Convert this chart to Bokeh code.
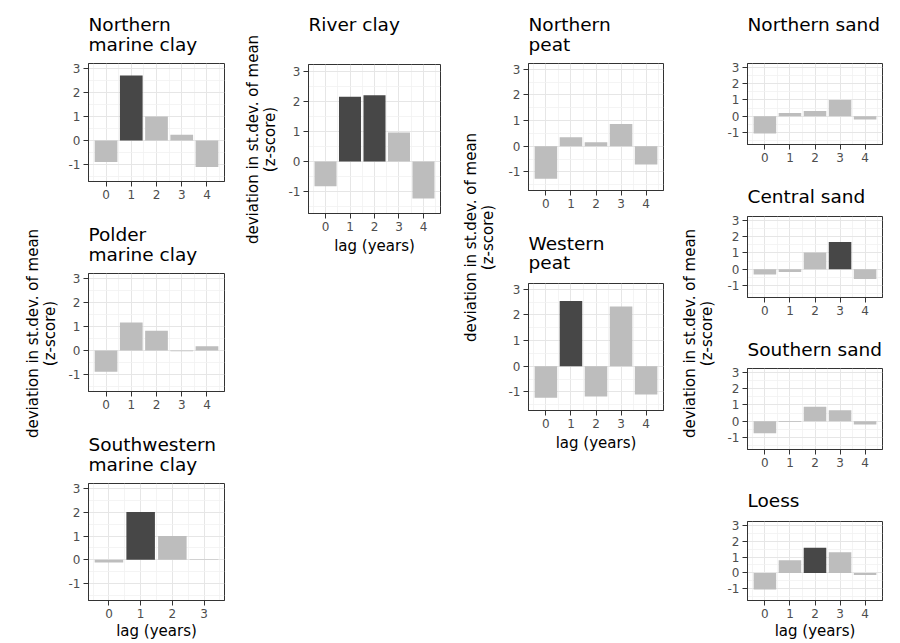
import math
from bokeh.plotting import figure
from bokeh.layouts import row, column
from bokeh.models import Range1d, FixedTicker, ColumnDataSource
from bokeh.embed import file_html
from bokeh.resources import INLINE
from bokeh.core.properties import value

# ---------------- data ----------------
lags5 = [0, 1, 2, 3, 4]
lags4 = [0, 1, 2, 3]
y_ticks = [-1, 0, 1, 2, 3]
y_limits = [-1.5, 3.0]

northern_marine_clay = [-0.91, 2.72, 1.00, 0.24, -1.12]
northern_marine_clay_sig = [0, 1, 0, 0, 0]
polder_marine_clay = [-0.90, 1.17, 0.82, -0.04, 0.17]
polder_marine_clay_sig = [0, 0, 0, 0, 0]
southwestern_marine_clay = [-0.12, 2.02, 1.00, 0.02]
southwestern_marine_clay_sig = [0, 1, 0, 0]
river_clay = [-0.82, 2.15, 2.20, 0.97, -1.23]
river_clay_sig = [0, 1, 1, 0, 0]
northern_peat = [-1.27, 0.35, 0.16, 0.87, -0.71]
northern_peat_sig = [0, 0, 0, 0, 0]
western_peat = [-1.23, 2.54, -1.18, 2.33, -1.10]
western_peat_sig = [0, 1, 0, 0, 0]
northern_sand = [-1.05, 0.20, 0.32, 1.00, -0.20]
northern_sand_sig = [0, 0, 0, 0, 0]
central_sand = [-0.32, -0.16, 1.03, 1.66, -0.59]
central_sand_sig = [0, 0, 0, 1, 0]
southern_sand = [-0.73, -0.05, 0.89, 0.67, -0.20]
southern_sand_sig = [0, 0, 0, 0, 0]
loess = [-1.03, 0.79, 1.58, 1.30, -0.12]
loess_sig = [0, 0, 1, 0, 0]

ylab1 = "deviation in st.dev. of mean"
ylab2 = "(z-score)"
xlab = "lag (years)"

# ---------------- style ----------------
FONT = "DejaVu Sans"
DARK = "#474747"
LIGHT = "#bdbdbd"
BORDER = "#333333"
TICKTXT = "#4d4d4d"
TOTAL_H = 642
BASE_FIX = 6      # text baseline correction (px)
TS = "18.5px"
R = math.pi / 2


def panel(lags, vals, sig, width, height, bl, br, bt, bb, xlabel=False, standoff=3):
    n = len(lags)
    span = (n - 1) + 0.9
    xr = Range1d(-0.45 - 0.05 * span, n - 1 + 0.45 + 0.05 * span)
    yspan = y_limits[1] - y_limits[0]
    yr = Range1d(y_limits[0] - 0.05 * yspan, y_limits[1] + 0.05 * yspan)
    p = figure(width=width, height=height, x_range=xr, y_range=yr,
               output_backend="svg", toolbar_location=None, title=None)
    p.min_border_left = bl
    p.min_border_right = br
    p.min_border_top = bt
    p.min_border_bottom = bb
    p.background_fill_color = "white"
    p.border_fill_color = "white"
    p.outline_line_color = BORDER
    p.outline_line_width = 1

    p.xaxis.ticker = FixedTicker(ticks=list(lags),
                                 minor_ticks=[l - 0.5 for l in lags] + [lags[-1] + 0.5])
    p.yaxis.ticker = FixedTicker(ticks=y_ticks,
                                 minor_ticks=[t - 0.5 for t in y_ticks])
    p.yaxis.major_label_overrides = {-1: "-1"}
    for ax in (p.xaxis[0], p.yaxis[0]):
        ax.axis_line_color = BORDER
        ax.major_tick_line_color = BORDER
        ax.major_tick_out = 5
        ax.major_tick_in = 0
        ax.minor_tick_line_color = None
        ax.major_label_text_font = FONT
        ax.major_label_text_font_size = "12px"
        ax.major_label_text_color = TICKTXT
        ax.major_label_standoff = 3
    for g in (p.xgrid[0], p.ygrid[0]):
        g.grid_line_color = "#e6e6e6"
        g.grid_line_width = 1
        g.minor_grid_line_color = "#f1f1f1"
        g.minor_grid_line_width = 0.8
    if xlabel:
        p.xaxis.axis_label = xlab
        p.xaxis.axis_label_text_font = FONT
        p.xaxis.axis_label_text_font_size = "15px"
        p.xaxis.axis_label_text_font_style = "normal"
        p.xaxis.axis_label_text_color = "#000000"
        p.xaxis.axis_label_standoff = standoff

    src = ColumnDataSource(dict(lag=list(lags), val=list(vals),
                                color=[DARK if s else LIGHT for s in sig]))
    p.vbar(x="lag", top="val", bottom=0, width=0.9, fill_color="color",
           line_color=None, source=src)
    return p


def text_fig(x0, x1, width, bl, br, top, height, items):
    """Text strip. Frame spans image x [x0, x1] (borders bl/br), image y [top, top+height].
    items: (text, x_img, y_img_baseline, size, angle, align)"""
    p = figure(width=width, height=height,
               x_range=Range1d(x0, x1),
               y_range=Range1d(-(top + height), -top),
               x_axis_type=None, y_axis_type=None,
               output_backend="svg", toolbar_location=None, title=None)
    p.min_border_left = bl
    p.min_border_right = br
    p.min_border_top = 0
    p.min_border_bottom = 0
    p.outline_line_color = None
    p.grid.visible = False
    p.background_fill_color = "white"
    p.border_fill_color = "white"
    for (t, x, y, size, ang, align) in items:
        if ang == 0:
            xx, yy = x, y - BASE_FIX
        else:
            xx, yy = x - BASE_FIX, y
        p.text(x=[xx], y=[-yy], text=[t], text_font=value(FONT),
               text_font_size=size, text_color="#000000",
               text_align=align, text_baseline="alphabetic", angle=ang)
    return p


def ylab_strip(x0, x1, cy, b1, b2):
    return text_fig(x0, x1, x1 - x0, 0, 0, 0, TOTAL_H,
                    [(ylab1, b1, cy, "15px", R, "center"),
                     (ylab2, b2, cy, "15px", R, "center")])


# ---- y-axis label strips ----
LA = ylab_strip(0, 62, 333, 38.5, 55.5)
LB = ylab_strip(240, 279, 139, 258.5, 275)
LC = ylab_strip(450, 498, 237, 476.5, 493)
LD = ylab_strip(680, 717, 333, 695, 712)

# ---- column A: marine clays (x 62..240, frame 88..224) ----
def tA(top, h, lines):
    return text_fig(88, 224, 178, 26, 16, top, h, [(t, 88, b, TS, 0, "left") for t, b in lines])

A = column(
    tA(0, 60, [("Northern", 30), ("marine clay", 50)]),
    panel(lags5, northern_marine_clay, northern_marine_clay_sig, 178, 162, 26, 16, 3, 41),
    tA(222, 48, [("Polder", 240), ("marine clay", 260)]),
    panel(lags5, polder_marine_clay, polder_marine_clay_sig, 178, 162, 26, 16, 3, 41),
    tA(432, 48, [("Southwestern", 450), ("marine clay", 470)]),
    panel(lags4, southwestern_marine_clay, southwestern_marine_clay_sig, 178, 162, 26, 16, 3, 41,
          xlabel=True, standoff=1),
)

# ---- column B: river clay (x 279..450, frame 308..440) ----
B = column(
    text_fig(308, 440, 171, 29, 10, 0, 60, [("River clay", 308, 30, TS, 0, "left")]),
    panel(lags5, river_clay, river_clay_sig, 171, 582, 29, 10, 4, 429, xlabel=True, standoff=3),
)

# ---- column C: peat (x 498..680, frame 528..663) ----
def tC(top, h, lines):
    return text_fig(528, 663, 182, 30, 17, top, h, [(t, 528, b, TS, 0, "left") for t, b in lines])

C = column(
    tC(0, 60, [("Northern", 30), ("peat", 50)]),
    panel(lags5, northern_peat, northern_peat_sig, 182, 168, 30, 17, 3, 38),
    tC(228, 52, [("Western", 249), ("peat", 268)]),
    panel(lags5, western_peat, western_peat_sig, 182, 362, 30, 17, 3, 232, xlabel=True, standoff=3),
)

# ---- column D: sand + loess (x 717..892, frame 747..882) ----
def tD(top, h, lines):
    return text_fig(747, 882, 175, 30, 10, top, h, [(t, 747, b, TS, 0, "left") for t, b in lines])

D = column(
    tD(0, 60, [("Northern sand", 30)]),
    panel(lags5, northern_sand, northern_sand_sig, 175, 115, 30, 10, 3, 31),
    tD(175, 37, [("Central sand", 202)]),
    panel(lags5, central_sand, central_sand_sig, 175, 115, 30, 10, 4, 30),
    tD(327, 38, [("Southern sand", 355)]),
    panel(lags5, southern_sand, southern_sand_sig, 175, 115, 30, 10, 3, 31),
    tD(480, 38, [("Loess", 506)]),
    panel(lags5, loess, loess_sig, 175, 124, 30, 10, 3, 41, xlabel=True, standoff=1),
)

layout = row(LA, A, LB, B, LC, C, LD, D)
open("out.html", "w").write(file_html(layout, INLINE))
